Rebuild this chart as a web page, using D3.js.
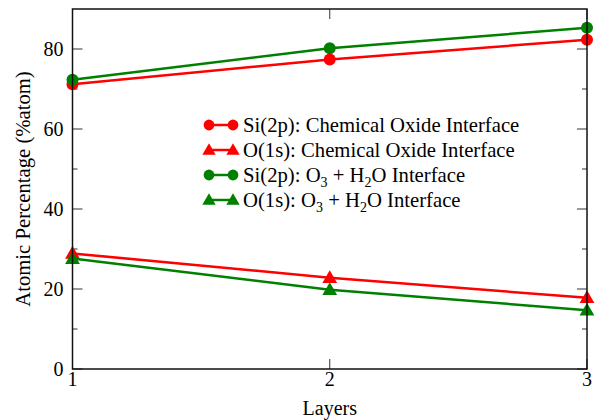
<!DOCTYPE html>
<html><head><meta charset="utf-8">
<script src="https://cdn.jsdelivr.net/npm/d3@7"></script>
<style>body{margin:0;background:#fff}svg{display:block}text{font-family:"Liberation Serif","Times New Roman",serif}</style>
</head><body><svg id="c" width="597" height="420"></svg>
<script>
const layers = [1, 2, 3];
const siChem = [71.2, 77.4, 82.3];
const oChem = [28.9, 22.8, 17.8];
const siO3 = [72.3, 80.2, 85.3];
const oO3 = [27.6, 19.8, 14.7];
const yTicks = [0, 20, 40, 60, 80];
const yMinor = [10, 30, 50, 70];
const series = [
  {name: "Si(2p): Chemical Oxide Interface", values: siChem, color: "#ff0000", sym: "circle"},
  {name: "O(1s): Chemical Oxide Interface", values: oChem, color: "#ff0000", sym: "triangle"},
  {name: "Si(2p): O3 + H2O Interface", values: siO3, color: "#008000", sym: "circle"},
  {name: "O(1s): O3 + H2O Interface", values: oO3, color: "#008000", sym: "triangle"}
];

const svg = d3.select("#c");
const L = 72.5, R = 587, T = 9, B = 369;
const x = d3.scaleLinear().domain([1, 3]).range([L, R]);
const y = d3.scaleLinear().domain([0, 90]).range([B, T]);
const FS = 20;
const LFS = 20.7;

// ticks
const tk = svg.append("g").attr("stroke", "#333").attr("stroke-width", 1);
yTicks.forEach(v => {
  tk.append("line").attr("x1", L).attr("x2", L + 10).attr("y1", y(v)).attr("y2", y(v));
  tk.append("line").attr("x1", R).attr("x2", R - 10).attr("y1", y(v)).attr("y2", y(v));
});
yMinor.forEach(v => {
  tk.append("line").attr("x1", L).attr("x2", L + 5).attr("y1", y(v)).attr("y2", y(v));
  tk.append("line").attr("x1", R).attr("x2", R - 5).attr("y1", y(v)).attr("y2", y(v));
});
layers.forEach(v => {
  tk.append("line").attr("x1", x(v)).attr("x2", x(v)).attr("y1", B).attr("y2", B - 10);
  tk.append("line").attr("x1", x(v)).attr("x2", x(v)).attr("y1", T).attr("y2", T + 10);
});

// tick labels
yTicks.forEach(v => {
  svg.append("text").attr("x", L - 9).attr("y", y(v)).attr("dy", "0.35em")
    .attr("text-anchor", "end").attr("font-size", FS).text(v);
});
layers.forEach(v => {
  svg.append("text").attr("x", x(v)).attr("y", 386).attr("text-anchor", "middle")
    .attr("font-size", FS).text(v);
});
svg.append("text").attr("x", (L + R) / 2).attr("y", 415).attr("text-anchor", "middle")
  .attr("font-size", FS).text("Layers");
svg.append("text").attr("transform", `translate(30,${(T + B) / 2}) rotate(-90)`)
  .attr("text-anchor", "middle").attr("font-size", LFS).text("Atomic Percentage (%atom)");

const line = d3.line().x((d, i) => x(layers[i])).y(d => y(d));
function marker(g, sym, cx, cy, color, scale) {
  if (sym === "circle") {
    g.append("circle").attr("cx", cx).attr("cy", cy).attr("r", 6 * scale).attr("fill", color);
  } else {
    g.append("path").attr("d", d3.symbol().type(d3.symbolTriangle).size(95 * scale * scale)())
      .attr("transform", `translate(${cx},${cy + 1})`).attr("fill", color);
  }
}

series.forEach(s => {
  const g = svg.append("g");
  g.append("path").attr("d", line(s.values)).attr("fill", "none")
    .attr("stroke", s.color).attr("stroke-width", 2.5);
  s.values.forEach((v, i) => marker(g, s.sym, x(layers[i]), y(v), s.color, 1));
});

// frame
svg.append("rect").attr("x", L).attr("y", T).attr("width", R - L).attr("height", B - T)
  .attr("fill", "none").attr("stroke", "#111").attr("stroke-width", 1.5);

// legend
const lx1 = 209, lx2 = 233, ly0 = 125, ldy = 25;
series.forEach((s, i) => {
  const ly = ly0 + i * ldy;
  const g = svg.append("g");
  g.append("line").attr("x1", lx1).attr("x2", lx2).attr("y1", ly).attr("y2", ly)
    .attr("stroke", s.color).attr("stroke-width", 2.5);
  marker(g, s.sym, lx1, ly, s.color, 0.9);
  marker(g, s.sym, lx2, ly, s.color, 0.9);
  const t = g.append("text").attr("x", 243).attr("y", ly).attr("dy", "0.35em").attr("font-size", LFS);
  if (i < 2) {
    t.text(s.name);
  } else {
    const pre = i === 2 ? "Si(2p): O" : "O(1s): O";
    t.append("tspan").text(pre);
    t.append("tspan").attr("dy", 5).attr("font-size", 14).text("3");
    t.append("tspan").attr("dy", -5).text(" + H");
    t.append("tspan").attr("dy", 5).attr("font-size", 14).text("2");
    t.append("tspan").attr("dy", -5).text("O Interface");
  }
});
</script></body></html>
